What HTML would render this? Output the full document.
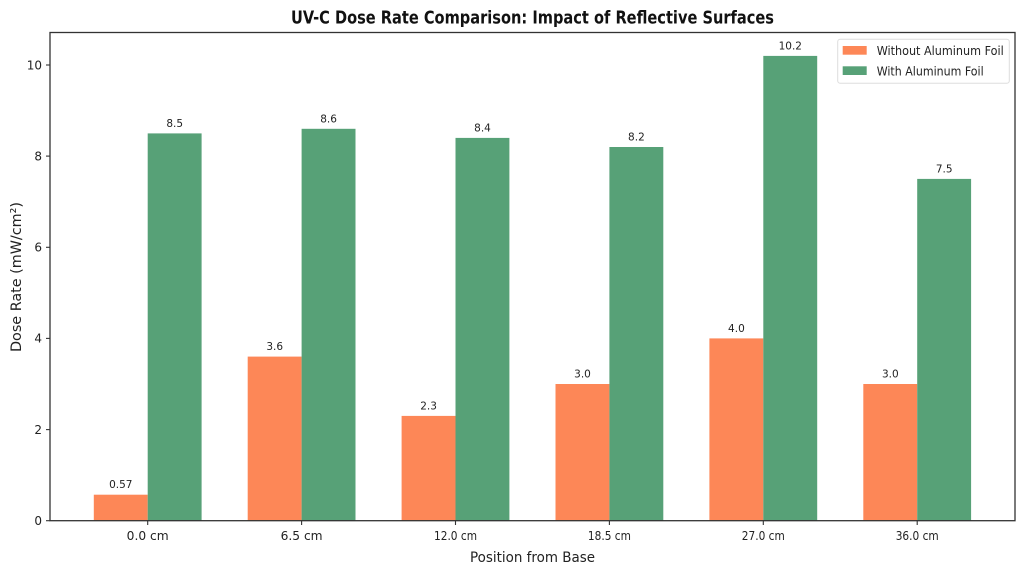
<!DOCTYPE html>
<html><head><meta charset="utf-8"><style>
html,body{margin:0;padding:0;background:#fff;}
svg{display:block;}
text{font-family:"DejaVu Sans","Liberation Sans",sans-serif;fill:#222;}
</style></head><body>
<svg width="1024" height="576" viewBox="0 0 1024 576" xmlns="http://www.w3.org/2000/svg">
<rect width="1024" height="576" fill="#fff"/>
<text x="532.5" y="23.5" text-anchor="middle" font-size="17.5" font-weight="bold" textLength="483" lengthAdjust="spacingAndGlyphs" style="fill:#111">UV-C Dose Rate Comparison: Impact of Reflective Surfaces</text>
<g>
<rect x="93.8" y="494.7" width="53.9" height="26" fill="#FD8757"/>
<rect x="247.7" y="356.6" width="53.9" height="164.1" fill="#FD8757"/>
<rect x="401.6" y="415.9" width="53.9" height="104.8" fill="#FD8757"/>
<rect x="555.5" y="384.0" width="53.9" height="136.7" fill="#FD8757"/>
<rect x="709.4" y="338.4" width="53.9" height="182.3" fill="#FD8757"/>
<rect x="863.3" y="384.0" width="53.9" height="136.7" fill="#FD8757"/>
<rect x="147.7" y="133.4" width="53.9" height="387.3" fill="#57A177"/>
<rect x="301.6" y="128.8" width="53.9" height="391.9" fill="#57A177"/>
<rect x="455.5" y="137.9" width="53.9" height="382.8" fill="#57A177"/>
<rect x="609.4" y="147.0" width="53.9" height="373.7" fill="#57A177"/>
<rect x="763.3" y="55.9" width="53.9" height="464.8" fill="#57A177"/>
<rect x="917.2" y="178.9" width="53.9" height="341.8" fill="#57A177"/>
</g>
<g font-size="10.5" text-anchor="middle">
<text x="120.8" y="488.2">0.57</text>
<text x="274.7" y="350.1">3.6</text>
<text x="428.6" y="409.4">2.3</text>
<text x="582.5" y="377.5">3.0</text>
<text x="736.4" y="331.9">4.0</text>
<text x="890.3" y="377.5">3.0</text>
<text x="174.7" y="126.9">8.5</text>
<text x="328.6" y="122.3">8.6</text>
<text x="482.5" y="131.4">8.4</text>
<text x="636.4" y="140.5">8.2</text>
<text x="790.3" y="49.4">10.2</text>
<text x="944.2" y="172.4">7.5</text>
</g>
<rect x="50" y="32.5" width="965" height="488.2" fill="none" stroke="#333" stroke-width="1.3"/>
<g stroke="#333" stroke-width="1.1">
<line x1="46" y1="520.7" x2="50" y2="520.7"/>
<line x1="46" y1="429.6" x2="50" y2="429.6"/>
<line x1="46" y1="338.4" x2="50" y2="338.4"/>
<line x1="46" y1="247.3" x2="50" y2="247.3"/>
<line x1="46" y1="156.1" x2="50" y2="156.1"/>
<line x1="46" y1="65.0" x2="50" y2="65.0"/>
<line x1="147.7" y1="520.7" x2="147.7" y2="525"/>
<line x1="301.6" y1="520.7" x2="301.6" y2="525"/>
<line x1="455.5" y1="520.7" x2="455.5" y2="525"/>
<line x1="609.4" y1="520.7" x2="609.4" y2="525"/>
<line x1="763.3" y1="520.7" x2="763.3" y2="525"/>
<line x1="917.2" y1="520.7" x2="917.2" y2="525"/>
</g>
<g font-size="12" text-anchor="end">
<text x="42" y="525">0</text>
<text x="42" y="433.9">2</text>
<text x="42" y="342.7">4</text>
<text x="42" y="251.6">6</text>
<text x="42" y="160.4">8</text>
<text x="42" y="69.3">10</text>
</g>
<g font-size="12" text-anchor="middle">
<text x="147.7" y="540" textLength="42" lengthAdjust="spacingAndGlyphs">0.0 cm</text>
<text x="301.6" y="540" textLength="42" lengthAdjust="spacingAndGlyphs">6.5 cm</text>
<text x="455.5" y="540" textLength="43" lengthAdjust="spacingAndGlyphs">12.0 cm</text>
<text x="609.4" y="540" textLength="43" lengthAdjust="spacingAndGlyphs">18.5 cm</text>
<text x="763.3" y="540" textLength="43" lengthAdjust="spacingAndGlyphs">27.0 cm</text>
<text x="917.2" y="540" textLength="43" lengthAdjust="spacingAndGlyphs">36.0 cm</text>
</g>
<text x="532.5" y="562" text-anchor="middle" font-size="14.5" textLength="125" lengthAdjust="spacingAndGlyphs">Position from Base</text>
<text transform="translate(21,277) rotate(-90)" text-anchor="middle" font-size="14.5" textLength="150" lengthAdjust="spacingAndGlyphs">Dose Rate (mW/cm²)</text>
<rect x="837.7" y="39.3" width="171.6" height="44" rx="2.5" fill="#fff" fill-opacity="0.9" stroke="#ddd" stroke-width="1"/>
<rect x="842.7" y="46" width="24" height="8.7" fill="#FD8757"/>
<rect x="842.7" y="66.3" width="24" height="8.7" fill="#57A177"/>
<text x="876.7" y="55" font-size="12" textLength="127" lengthAdjust="spacingAndGlyphs">Without Aluminum Foil</text>
<text x="876.7" y="75.3" font-size="12" textLength="107" lengthAdjust="spacingAndGlyphs">With Aluminum Foil</text>
</svg>
</body></html>
